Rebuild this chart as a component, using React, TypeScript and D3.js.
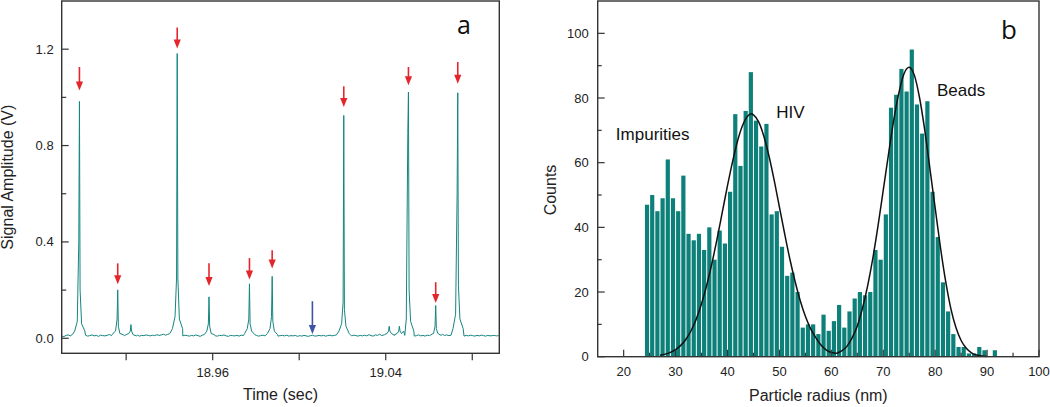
import React from "react";
import * as d3 from "d3";

const W = 1050;
const H = 407;

// ---------------- Panel a: time trace ----------------
const traceStart = 18.8902;
const traceStep = 0.001;
// baseline samples in mV (one per ms)
const baselineMv = [
  9, 7, 12, 14, 10, 16, 13, 11, 10, 12,
  10, 13, 9, 11, 14, 10, 12, 8, 13, 11,
  10, 12, 16, 11, 9, 13, 10, 12, 14, 11,
  9, 12, 15, 11, 10, 13, 9, 12, 11, 14,
  12, 10, 13, 11, 15, 12, 14, 17, 13, 16,
  20, 16, 22, 18, 14, 12, 10, 13, 11, 9,
  12, 10, 14, 11, 8, 13, 10, 12, 9, 11,
  13, 10, 9, 12, 11, 14, 10, 8, 12, 11,
  10, 12, 9, 13, 11, 10, 14, 12, 9, 11,
  12, 9, 11, 13, 10, 12, 8, 11, 13, 10,
  9, 11, 12, 10, 13, 9, 11, 10, 12, 8,
  11, 9, 12, 10, 8, 11, 13, 9, 10, 12,
  10, 12, 9, 11, 13, 10, 12, 14, 11, 15,
  14, 11, 9, 12, 10, 13, 11, 9, 12, 10,
  13, 10, 15, 11, 9, 14, 12, 17, 11, 13,
  18, 12, 16, 13, 20, 14, 11, 16, 12, 15,
  13, 10, 12, 9, 11, 14, 10, 12, 9, 13,
  11, 9, 12, 10, 13, 11, 16, 12, 14, 11,
  13, 15, 12, 10, 14, 11, 9, 12, 10, 13,
  11, 9, 12, 10, 13, 11, 9, 12, 10, 11,
  12, 10, 11,
];
const peakTimes = [
  18.8984, 18.9161, 18.9222, 18.9436, 18.9583, 18.977, 18.9875,
  19.0206, 19.0416, 19.0463, 19.0505, 19.0631, 19.0733,
];
const peakShapeOffsets = [-0.0022, -0.001, -0.0003, 0, 0.0003, 0.001, 0.0025];
const peakShapes = [
  [0.03, 0.07, 0.4, 0.983, 0.2, 0.06, 0.03],
  [0.02, 0.03, 0.08, 0.201, 0.05, 0.02, 0.015],
  [0.015, 0.02, 0.03, 0.057, 0.03, 0.015, 0.01],
  [0.04, 0.09, 0.25, 1.182, 0.25, 0.08, 0.04],
  [0.015, 0.03, 0.06, 0.172, 0.05, 0.02, 0.015],
  [0.02, 0.04, 0.08, 0.226, 0.06, 0.03, 0.015],
  [0.02, 0.04, 0.09, 0.257, 0.07, 0.03, 0.015],
  [0.03, 0.06, 0.15, 0.925, 0.12, 0.05, 0.02],
  [0.015, 0.02, 0.03, 0.05, 0.03, 0.02, 0.012],
  [0.015, 0.02, 0.03, 0.05, 0.03, 0.02, 0.012],
  [0.03, 0.08, 0.85, 1.022, 0.2, 0.07, 0.03],
  [0.015, 0.02, 0.05, 0.136, 0.04, 0.02, 0.012],
  [0.04, 0.1, 0.6, 1.019, 0.22, 0.08, 0.04],
];
const redArrowTimes = [18.8984, 18.9161, 18.9436, 18.9583, 18.977, 18.9875, 19.0206, 19.0505, 19.0631, 19.0733];
const redArrowTails = [1.126, 0.311, 1.29, 0.311, 0.333, 0.365, 1.046, 1.126, 0.233, 1.147];
const redArrowTips = [1.029, 0.224, 1.203, 0.217, 0.244, 0.29, 0.96, 1.05, 0.147, 1.057];
const blueArrowTimes = [19.0061];
const blueArrowTails = [0.154];
const blueArrowTips = [0.018];

const aYTicks = [0, 0.4, 0.8, 1.2];
const aYMinorTicks = [0.2, 0.6, 1.0];
const aXTicks = [18.92, 18.96, 19.0, 19.04, 19.08];
const aXLabels = ["", "18.96", "", "19.04", ""];

// ---------------- Panel b: histogram ----------------
const binLefts = d3.range(24, 92);
const counts = [
  47, 50, 45, 49, 61, 49, 45, 56, 38, 36, 38, 33, 40, 30,
  39, 35, 51, 75, 59, 76, 88, 73, 65, 72, 44, 45, 34, 25, 26, 20,
  9, 10, 10, 7, 13, 8, 11, 16, 9, 14, 18, 20, 19, 20,
  33, 30, 44, 77, 81, 89, 82, 95, 78, 69, 79, 51, 37, 23, 14, 7,
  3, 3, 1, 1, 3, 2, 0, 2,
];
const fitX = [
  27, 28, 29, 30, 31, 32, 33, 34, 35, 36, 37, 38, 39, 40, 41, 42, 43, 44, 44.6, 45,
  46, 47, 48, 49, 50, 51, 52, 53, 54, 55, 56, 57, 58, 59, 60, 61, 62, 63, 64, 65,
  66, 67, 68, 69, 70, 71, 72, 73, 74, 75, 76, 77, 78, 79, 80, 81, 82, 83, 84, 85,
  86, 87, 88, 89, 90,
];
const fitY = [
  0.45, 0.8, 1.35, 2.2, 3.5, 5.4, 8.1, 11.7, 16.4, 22.1, 28.9, 36.5, 44.7, 52.9, 60.5, 67.1, 71.9, 74.6, 75.1, 74.8,
  72.6, 68.2, 62, 54.5, 46.3, 38.1, 30.3, 23.4, 17.4, 12.5, 8.7, 5.9, 3.6, 2.1, 1.3, 1.1, 1.8, 3.2, 5.8, 9.5,
  15, 22, 30.5, 40.5, 51.5, 62.5, 73, 81.5, 87.5, 89.5, 87, 80, 70, 58, 46, 34, 23.5, 15, 9, 5,
  2.6, 1.2, 0.5, 0.2, 0.1,
];
const bXTicks = [20, 30, 40, 50, 60, 70, 80, 90, 100];
const bXMinor = [25, 35, 45, 55, 65, 75, 85, 95];
const bYTicks = [0, 20, 40, 60, 80, 100];
const bYMinor = [10, 30, 50, 70, 90];
const peakLabels = ["Impurities", "HIV", "Beads"];
const peakLabelX = [18.5, 49.4, 80.35];
const peakLabelY = [67, 73.9, 80.6];

const FONT = "'Liberation Sans', Arial, Helvetica, sans-serif";
const AX = "#333333";
const TEAL = "#0e807a";

function Arrow({ x, y1, y2, color }: { x: number; y1: number; y2: number; color: string }) {
  const head = 9;
  return (
    <g>
      <line x1={x} x2={x} y1={y1} y2={y2 - head + 1} stroke={color} strokeWidth={1.6} />
      <polygon points={`${x - 3.6},${y2 - head} ${x + 3.6},${y2 - head} ${x},${y2}`} fill={color} />
    </g>
  );
}

export default function App() {
  // Panel a scales
  const ax = d3.scaleLinear().domain([18.8902, 19.0925]).range([61.7, 499.3]);
  const ay = d3.scaleLinear().domain([-0.0623, 1.4]).range([353.3, 1]);

  const pts: [number, number][] = [];
  baselineMv.forEach((v, i) => {
    const t = traceStart + i * traceStep;
    const near = peakTimes.some((p) => Math.abs(t - p) < 0.0026);
    if (!near) pts.push([t, v / 1000]);
  });
  peakTimes.forEach((p, k) => {
    peakShapeOffsets.forEach((o, j) => pts.push([p + o, peakShapes[k][j]]));
  });
  pts.sort((a, b) => a[0] - b[0]);
  const traceLine = d3
    .line<[number, number]>()
    .x((d) => ax(d[0]))
    .y((d) => ay(d[1]))(pts) as string;

  // Panel b scales
  const bx = d3.scaleLinear().domain([15, 100]).range([597.7, 1039]);
  const by = d3.scaleLinear().domain([0, 110]).range([356.7, 1]);
  const fitPath = d3
    .line<number>()
    .x((d, i) => bx(fitX[i]))
    .y((d) => by(d))
    .curve(d3.curveMonotoneX)(fitY) as string;

  const [aL, aR] = ax.range();
  const [aB, aT] = ay.range();
  const [bL, bR] = bx.range();
  const [bB, bT] = by.range();

  return (
    <svg
      width={W}
      height={H}
      viewBox={`0 0 ${W} ${H}`}
      style={{ position: "absolute", left: 0, top: 0, background: "#fff" }}
      fontFamily={FONT}
    >
      <rect x={0} y={0} width={W} height={H} fill="#fff" />
      {/* ---------- Panel a ---------- */}
      <g>
        <path d={traceLine} fill="none" stroke="#15857f" strokeWidth={1} strokeLinejoin="round" />
        {redArrowTimes.map((t, i) => (
          <Arrow key={"r" + i} x={ax(t)} y1={ay(redArrowTails[i])} y2={ay(redArrowTips[i])} color="#e4262c" />
        ))}
        {blueArrowTimes.map((t, i) => (
          <Arrow key={"b" + i} x={ax(t)} y1={ay(blueArrowTails[i])} y2={ay(blueArrowTips[i])} color="#3f53a4" />
        ))}
        <rect x={aL} y={aT} width={aR - aL} height={aB - aT} fill="none" stroke={AX} strokeWidth={1.4} />
        {aYTicks.map((v) => (
          <g key={"ay" + v}>
            <line x1={aL} x2={aL + 7} y1={ay(v)} y2={ay(v)} stroke={AX} strokeWidth={1.2} />
            <text x={aL - 8} y={ay(v)} dy="0.35em" textAnchor="end" fontSize={13} fill="#222">
              {v.toFixed(1)}
            </text>
          </g>
        ))}
        {aYMinorTicks.map((v) => (
          <line key={"aym" + v} x1={aL} x2={aL + 4.5} y1={ay(v)} y2={ay(v)} stroke={AX} strokeWidth={1.2} />
        ))}
        {aXTicks.map((v, i) => (
          <g key={"ax" + v}>
            <line x1={ax(v)} x2={ax(v)} y1={aB} y2={aB + 7} stroke={AX} strokeWidth={1.2} />
            {aXLabels[i] && (
              <text x={ax(v)} y={377} textAnchor="middle" fontSize={13} fill="#222">
                {aXLabels[i]}
              </text>
            )}
          </g>
        ))}
        <text x={(aL + aR) / 2} y={400} textAnchor="middle" fontSize={16} fill="#222">
          Time (sec)
        </text>
        <text transform={`translate(13, ${(aT + aB) / 2}) rotate(-90)`} textAnchor="middle" fontSize={16} fill="#222">
          Signal Amplitude (V)
        </text>
        <text x={457} y={33.5} fontSize={25} fill="#111" fontFamily="'Open Sans', 'Liberation Sans', sans-serif">
          a
        </text>
      </g>

      {/* ---------- Panel b ---------- */}
      <g>
        {binLefts.map((b, i) =>
          counts[i] > 0 ? (
            <rect
              key={"bar" + b}
              x={bx(b) + 0.5}
              y={by(counts[i])}
              width={bx(b + 1) - bx(b) - 1}
              height={by(0) - by(counts[i])}
              fill={TEAL}
            />
          ) : null
        )}
        <path d={fitPath} fill="none" stroke="#111" strokeWidth={1.5} />
        <rect x={bL} y={bT} width={bR - bL} height={bB - bT} fill="none" stroke={AX} strokeWidth={1.4} />
        {bXTicks.map((v) => (
          <g key={"bx" + v}>
            <line x1={bx(v)} x2={bx(v)} y1={bB} y2={bB - 7} stroke={AX} strokeWidth={1.2} />
            <text x={bx(v)} y={376} textAnchor="middle" fontSize={13} fill="#222">
              {v}
            </text>
          </g>
        ))}
        {bXMinor.map((v) => (
          <line key={"bxm" + v} x1={bx(v)} x2={bx(v)} y1={bB} y2={bB - 4} stroke={AX} strokeWidth={1.2} />
        ))}
        {bYTicks.map((v) => (
          <g key={"by" + v}>
            <line x1={bL} x2={bL + 7} y1={by(v)} y2={by(v)} stroke={AX} strokeWidth={1.2} />
            <text x={bL - 9} y={by(v)} dy="0.35em" textAnchor="end" fontSize={13} fill="#222">
              {v}
            </text>
          </g>
        ))}
        {bYMinor.map((v) => (
          <line key={"bym" + v} x1={bL} x2={bL + 4} y1={by(v)} y2={by(v)} stroke={AX} strokeWidth={1.2} />
        ))}
        {peakLabels.map((s, i) => (
          <text key={s} x={bx(peakLabelX[i])} y={by(peakLabelY[i])} fontSize={17} fill="#111">
            {s}
          </text>
        ))}
        <text x={(bL + bR) / 2} y={401} textAnchor="middle" fontSize={16} fill="#222">
          Particle radius (nm)
        </text>
        <text transform={`translate(556, 190) rotate(-90)`} textAnchor="middle" fontSize={16} fill="#222">
          Counts
        </text>
        <text x={1001} y={39} fontSize={26} fill="#111" fontFamily="'Open Sans', 'Liberation Sans', sans-serif">
          b
        </text>
      </g>
    </svg>
  );
}
